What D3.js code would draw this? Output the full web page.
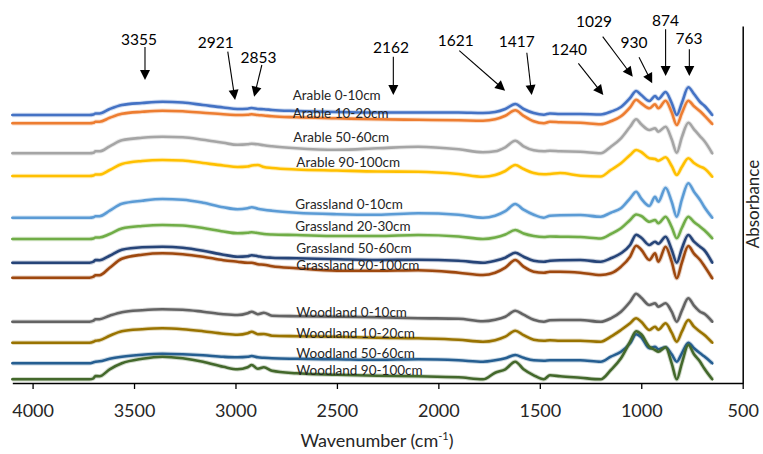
<!DOCTYPE html>
<html><head><meta charset="utf-8">
<script src="https://cdn.jsdelivr.net/npm/d3@7"></script>
<style>
html,body{margin:0;padding:0;background:#fff;}
svg{display:block;font-family:Lato,"Open Sans",sans-serif;}
</style></head>
<body><svg id="chart" width="763" height="454"></svg>
<script>
// ---------- DATA ----------
const wavenumbers = [4100,3720,3700,3690,3670,3620,3560,3460,3360,3260,3160,3060,2990,2940,2920,2890,2860,2820,2700,2500,2300,2100,1900,1780,1720,1670,1621,1580,1530,1480,1450,1400,1300,1200,1150,1100,1055,1025,1000,960,932,916,880,850,825,800,768,740,710,690,650];

const seriesNames = ["Arable 0-10cm","Arable 10-20cm","Arable 50-60cm","Arable 90-100cm","Grassland 0-10cm","Grassland 20-30cm","Grassland 50-60cm","Grassland 90-100cm","Woodland 0-10cm","Woodland 10-20cm","Woodland 50-60cm","Woodland 90-100cm"];

// vertical offsets of the stacked spectra (arbitrary absorbance units)
const offsets = [268,259.7,229.7,207,165.3,144,120.3,105.3,61.3,40.3,19.7,3.7];

// spectra relative to own offset (arbitrary absorbance units)
const arable0_10 = [0,0,0.5,1.5,1.5,6,10,12,13.3,12.5, 10,7.5,6,6.3,7,6,5.8,5,4,3, 2.5,2.5,2.5,2,3,6,11,6,2,0.3, 1.5,1,1,0.5, 3.3,8,17,24,20,14,19,16,23,12,0,12,27.7,21,13,9.5,0];
const arable10_20 = [0,0,0.5,1.5,1.5,5.5,9.5,11.5,12.6,12, 10.5,9,8.3,8.5,9,8.3,7.8,7,6,5, 4,3.5,3,2.6,4,7.5,13,7.5,2,0, 1.5,1,0.6,-1, 2,7,16,23.5,20,15,19,15,22.6,11,-1.7,10,22.6,17,12,8,-0.7];
const arable50_60 = [0,0,0.5,2,2,7,13,15.5,16.6,16, 13.5,10.5,8.5,9,9.5,9,8,7,5,3.5, 5,6.6,4,1,2,6,12.6,7,3,2, 2.6,2,1.6,0, 6.6,15,26.6,34,29,23.3,25,21.6,26.6,14,0.6,16,30.6,24,17,12.5,0];
const arable90_100 = [0,0,0.5,1.5,1.5,6,12,15,16,15.5, 13,10.5,9,9.5,10.5,11,9,8,6.5,5.5, 4.5,4.3,2,-0.7,1,5,11,7,3,1.7, 2,3,0.3,-0.5, 6,12.7,21,26,24,17.7,17,15.3,18.7,10,1,9,17.7,13,9.3,7.7,-0.7];
const grass0_10 = [0,0,0.5,1.5,1.5,7,14,17,18.7,18, 15,10.5,8.4,9.5,10.4,9,8,7,5,3.5, 3,4.4,3,0,2,6.5,13.7,8,3,0, 2,2.5,2.7,1, 5,9.4,19.4,26,19,11.7,21,16,30,16,1,18,34.4,26,17.7,11,0];
const grass20_30 = [0,0,0.5,1.5,1.5,5,10.5,13,14,13.5, 11,7.5,5.7,6.2,6.7,6,5,4.5,4,3, 3,4,2.5,0,1.5,4.5,9,5.5,3,2, 2.5,2.3,2,0.5, 5,10.7,19,24.5,23,17.3,19,15.7,22.3,12,0.7,11,22.3,17,12.3,9,0.7];
const grass50_60 = [0,0,1,2.7,2.5,7,13,15.5,16,15, 12,8,6,6.5,7.5,6.5,5.5,5,4.4,3.5, 2.7,3,2,0,2,5,10,6,2,1, 2,2.5,2.7,1, 4.4,9.4,17.7,28,25,17.7,21,19,26,13,0,14,27.7,21,16,12.7,0];
const grass90_100 = [0,0,1,2.5,2.5,10,19,23,24.4,23.5, 21,17.5,16,15,15,13.5,13,11.5,9.5,7, 7,7.5,5,2.7,5,10,17.7,11,6,5, 6,6,5,2.7, 4.4,11,21,32,28,17.7,24.4,16,31,16,-0.6,15,31.7,24,17.7,12,-0.6];
const wood0_10 = [0,0,1,2.4,2.5,6,9.5,11.5,12.4,12, 10,7.5,6.7,8.5,10,7.5,9,6,5.5,5, 4.4,3.5,3,0.5,2,5,11,7,2,0, 1.5,1.7,1.7,0, 3.4,10,20,28,24,16.7,18.4,15,18.4,10,0,11,23.4,16,10,8,0];
const wood10_20 = [0,0,1,2,2.5,7,11.5,13.5,14.4,13.5, 11.5,9,8,9.5,11,8.5,8.7,7,6.5,6, 5,4.4,3,1,2.5,6,12,7.5,3,2, 2.5,2,2,1, 6,12.7,19.4,24.4,21,12.7,16,13,19.4,10,1,11,22.7,16,11,8,0];
const wood50_60 = [0,0,1,1.6,2,4.5,6.5,8.5,9.5,9, 8,6.5,6,6.5,7.3,6,5.5,5,4.5,4, 3.5,4,3,1.6,3,5,8.3,5.5,3,2.6, 3,3,3,1.5, 6.6,11.6,20,29,26,15,16.6,14,16,9,1.6,10,20.6,15,10,7,0];
const wood90_100 = [0,0,1,3.3,3,10,16,20.5,22.6,21, 17.5,12.5,10,12,14.3,10.5,12,8.5,6,4.5, 3.5,3,2,0,6.6,10,17.6,10,4,0, 4,3,1.5,0, 9.3,21,37.6,48,45,32.6,29.3,27.6,32,16,0,16,34.3,25,17.6,11,0];

const seriesValues = [arable0_10,arable10_20,arable50_60,arable90_100,grass0_10,grass20_30,grass50_60,grass90_100,wood0_10,wood10_20,wood50_60,wood90_100];

const xTicks = [4000,3500,3000,2500,2000,1500,1000,500];
const peakLabels = ["3355","2921","2853","2162","1621","1417","1240","1029","930","874","763"];

// ---------- STYLE / LAYOUT ----------
const palette = ["#4472C4","#ED7D31","#A5A5A5","#FFC000","#5B9BD5","#70AD47","#264478","#9E480E","#636363","#997300","#255E91","#43682B"];
// series label anchors in data units [wavenumber, absorbance]
const labelPos = [[2718,283.5],[2718,265.5],[2715,241.3],[2700,215.7],[2705,174],[2705,152.3],[2700,130.3],[2700,113],[2700,66.3],[2700,45.3],[2700,24.7],[2700,8]];
// peak annotation layout in data units: text [w,a], arrow from [w,a] to [w,a]
const peakLayout = [
  {t:[3475,338], a:[3446,336], b:[3446,303]},
  {t:[3097,334.7], a:[3038,331.3], b:[3002,283]},
  {t:[2887,320.3], a:[2870,318], b:[2908,286.3]},
  {t:[2234,329.7], a:[2222,326.3], b:[2222,288]},
  {t:[1914,337], a:[1897,332.3], b:[1671,292.3]},
  {t:[1614,336.3], a:[1564,330.3], b:[1540,288]},
  {t:[1356,328], a:[1310,319.7], b:[1187,288]},
  {t:[1233,355.7], a:[1190,346.3], b:[1042,306.3]},
  {t:[1036,335.3], a:[1011,325.7], b:[946,299.7]},
  {t:[880,357], a:[880,353.7], b:[880,307]},
  {t:[765,338.7], a:[763,333.7], b:[763,307]}
];

const svg = d3.select("#chart");
const x = d3.scaleLinear().domain([4100,500]).range([12.3,742.7]);
const y = d3.scaleLinear().domain([0,357]).range([383,26]);
const textColor = "#262626";

// lines
const g = svg.append("g");
seriesValues.forEach((vals,i)=>{
  const pts = wavenumbers.map((w,j)=>({w, v: offsets[i]+vals[j]}));
  const line = d3.line().x(d=>x(d.w)).y(d=>y(d.v)).curve(d3.curveMonotoneX);
  g.append("path").attr("d",line(pts)).attr("fill","none")
    .attr("stroke",palette[i]).attr("stroke-opacity",0.25).attr("stroke-width",4.5)
    .attr("stroke-linejoin","round");
  g.append("path").attr("d",line(pts)).attr("fill","none")
    .attr("stroke",palette[i]).attr("stroke-width",2.6)
    .attr("stroke-linejoin","round").attr("stroke-linecap","round");
});

// series labels
seriesNames.forEach((n,i)=>{
  svg.append("text").attr("x",x(labelPos[i][0])).attr("y",y(labelPos[i][1]))
    .attr("font-size","13.5px").attr("fill",textColor).text(n);
});

// x axis
const xAxis = d3.axisBottom(x).tickValues(xTicks).tickSize(6).tickSizeOuter(0).tickFormat(d3.format("d"));
const ax = svg.append("g").attr("transform",`translate(0,${y(0)})`).call(xAxis);
ax.select(".domain").attr("stroke","#000").attr("stroke-width",1.5);
ax.selectAll(".tick line").attr("stroke","#000").attr("stroke-width",1.3);
ax.selectAll(".tick text").attr("dy",null).attr("y",33.5)
  .attr("font-size","18px").attr("font-family","Lato,'Open Sans',sans-serif").attr("fill",textColor);

// right y axis line (no ticks)
const yAxis = d3.axisLeft(y).tickValues([]).tickSizeOuter(0);
const ay = svg.append("g").attr("transform",`translate(${x(500)},0)`).call(yAxis);
ay.select(".domain").attr("stroke","#000").attr("stroke-width",1.5);

// axis titles
const xt = svg.append("text").attr("x",377).attr("y",446.5).attr("text-anchor","middle")
  .attr("font-size","18px").attr("fill",textColor);
xt.append("tspan").text("Wavenumber (cm");
xt.append("tspan").attr("font-size","11px").attr("dy",-7).text("-1");
xt.append("tspan").attr("dy",7).text(")");

svg.append("text").attr("transform",`translate(758.5,204) rotate(-90)`)
  .attr("text-anchor","middle").attr("font-size","17px").attr("fill",textColor).text("Absorbance");

// peak annotations
peakLabels.forEach((lab,i)=>{
  const L = peakLayout[i];
  svg.append("text").attr("x",x(L.t[0])).attr("y",y(L.t[1])).attr("text-anchor","middle")
    .attr("font-size","15.5px").attr("fill","#000").text(lab);
  const x1=x(L.a[0]), y1=y(L.a[1]), x2=x(L.b[0]), y2=y(L.b[1]);
  const dx=x2-x1, dy=y2-y1, len=Math.hypot(dx,dy), ux=dx/len, uy=dy/len;
  const hl=10, hw=5;
  const bx=x2-ux*hl, by=y2-uy*hl;
  svg.append("line").attr("x1",x1).attr("y1",y1).attr("x2",bx+ux*1).attr("y2",by+uy*1)
    .attr("stroke","#000").attr("stroke-width",1.1);
  svg.append("path").attr("d",`M${x2},${y2}L${bx-uy*hw},${by+ux*hw}L${bx+uy*hw},${by-ux*hw}Z`).attr("fill","#000");
});
</script></body></html>
